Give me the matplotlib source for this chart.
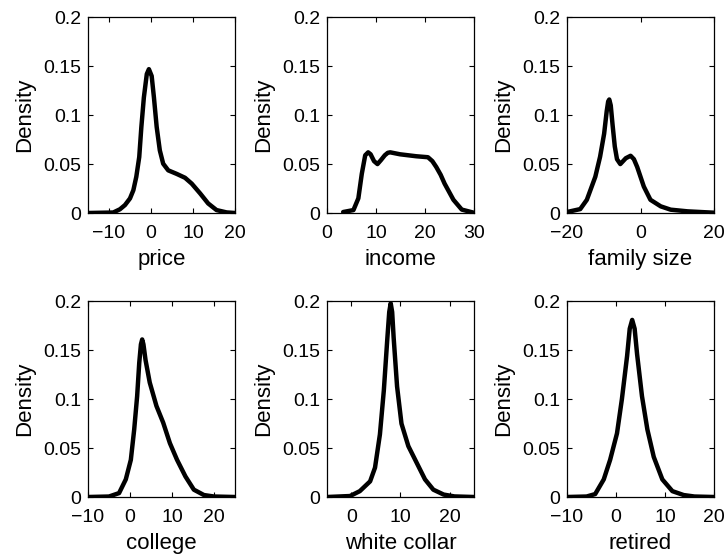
import matplotlib
matplotlib.use('Agg')
import matplotlib.pyplot as plt
from matplotlib.ticker import FormatStrFormatter

plt.rcParams['font.family'] = ['Liberation Sans', 'DejaVu Sans']

# density curves
price_x = [-15, -9.0, -7.4, -6.2, -5.0, -4.2, -3.5, -2.8, -2.3, -1.7, -1.0, -0.5, 0.16, 0.7, 1.35, 2.1, 2.9, 4.1, 6.1, 8.1, 9.7, 11.7, 13.6, 15.6, 18, 20]
price_y = [0, 0.0005, 0.0038, 0.0081, 0.0149, 0.0233, 0.037, 0.0572, 0.0876, 0.118, 0.142, 0.147, 0.140, 0.118, 0.088, 0.064, 0.0504, 0.0436, 0.040, 0.036, 0.030, 0.020, 0.0098, 0.0030, 0.0006, 0]

income_x = [3.3, 5.4, 6.4, 7.1, 7.8, 8.4, 8.9, 9.6, 10.3, 11.0, 11.8, 12.4, 12.9, 14.9, 18.2, 20.6, 21.5, 22.3, 23.2, 24.0, 25.8, 27.5, 29.8]
income_y = [0.001, 0.003, 0.015, 0.040, 0.059, 0.062, 0.060, 0.053, 0.050, 0.054, 0.059, 0.0615, 0.062, 0.060, 0.058, 0.057, 0.053, 0.047, 0.039, 0.030, 0.0135, 0.0035, 0.0005]

family_x = [-20, -16.4, -14.6, -12.3, -11, -9.9, -9.2, -8.8, -8.5, -8.1, -7.6, -7.0, -6.4, -5.5, -4.0, -2.7, -1.8, -0.9, 0.9, 2.7, 5.5, 8.2, 12.8, 20]
family_y = [0.001, 0.004, 0.0135, 0.037, 0.0575, 0.081, 0.104, 0.114, 0.116, 0.110, 0.090, 0.068, 0.055, 0.050, 0.056, 0.0585, 0.055, 0.047, 0.027, 0.0135, 0.0068, 0.0034, 0.0017, 0.0003]

college_x = [-10, -5, -2.6, -1, 0.2, 1.0, 1.7, 2.2, 2.6, 2.9, 3.2, 3.7, 4.7, 6.3, 7.9, 9.5, 11.2, 13.2, 15.2, 17.6, 20, 25]
college_y = [0, 0.0005, 0.004, 0.018, 0.038, 0.069, 0.103, 0.137, 0.156, 0.161, 0.156, 0.140, 0.117, 0.093, 0.076, 0.055, 0.038, 0.021, 0.0075, 0.002, 0.0005, 0]

white_x = [-5, -0.3, 1.7, 3.8, 4.8, 5.8, 6.6, 7.3, 7.7, 8.0, 8.3, 8.6, 9.3, 10.2, 11.6, 13.3, 15.0, 16.7, 18.8, 21, 25]
white_y = [0, 0.001, 0.006, 0.016, 0.030, 0.064, 0.109, 0.161, 0.189, 0.198, 0.189, 0.163, 0.113, 0.075, 0.052, 0.035, 0.018, 0.0075, 0.0025, 0.0006, 0]

retired_x = [-10, -6, -4.25, -2.5, -1.2, 0.2, 1.2, 2.26, 2.8, 3.3, 3.8, 4.3, 5.3, 6.4, 7.7, 9.45, 11.5, 13.8, 16, 20]
retired_y = [0, 0.0005, 0.003, 0.018, 0.038, 0.065, 0.100, 0.144, 0.172, 0.181, 0.172, 0.146, 0.103, 0.069, 0.041, 0.018, 0.006, 0.002, 0.0005, 0]

names = ['price', 'income', 'family size', 'college', 'white collar', 'retired']
curves = [(price_x, price_y), (income_x, income_y), (family_x, family_y),
          (college_x, college_y), (white_x, white_y), (retired_x, retired_y)]
xlims = [(-15, 20), (0, 30), (-20, 20), (-10, 25), (-5, 25), (-10, 20)]
xticks = [[-10, 0, 10, 20], [0, 10, 20, 30], [-20, 0, 20],
          [-10, 0, 10, 20], [0, 10, 20], [-10, 0, 10, 20]]

fig = plt.figure(figsize=(7.26, 5.56), dpi=100)

lefts = [0.1212, 0.4504, 0.781]
bottoms = [0.6169, 0.1061]
w, h = 0.2025, 0.352

for i, (name, (xs, ys)) in enumerate(zip(names, curves)):
    ax = fig.add_axes([lefts[i % 3], bottoms[i // 3], w, h])
    ax.plot(xs, ys, color='black', lw=3.2, solid_joinstyle='round', solid_capstyle='round')
    ax.set_xlim(*xlims[i])
    ax.set_ylim(0, 0.2)
    ax.set_xticks(xticks[i])
    ax.set_yticks([0, 0.05, 0.1, 0.15, 0.2])
    ax.yaxis.set_major_formatter(FormatStrFormatter('%g'))
    ax.tick_params(direction='in', top=True, right=True, length=3.5, width=0.8, labelsize=14)
    ax.tick_params(axis='x', pad=8.5)
    ax.tick_params(axis='y', pad=5)
    for s in ax.spines.values():
        s.set_linewidth(0.9)
    ax.set_xlabel(name, fontsize=16, labelpad=5)
    ax.set_ylabel('Density', fontsize=16, labelpad=6)

fig.savefig('out.png', dpi=100)
